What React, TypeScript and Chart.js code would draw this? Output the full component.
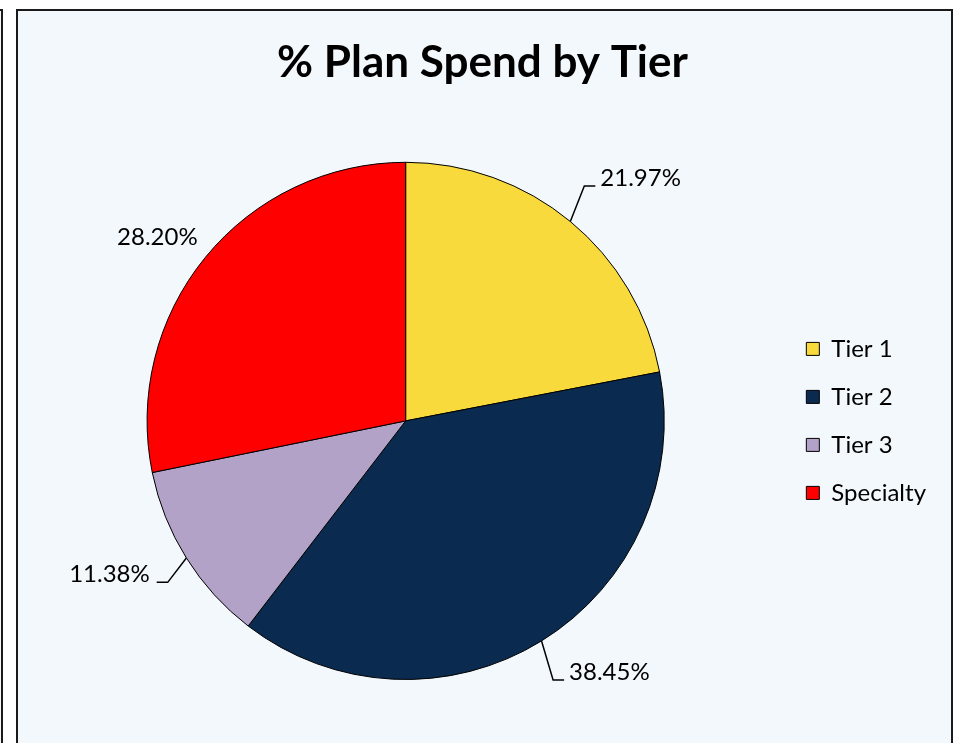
import React, { useEffect, useRef } from "react";
import { Chart, registerables } from "chart.js";

Chart.register(...registerables);

const titleText = "% Plan Spend by Tier";
const categories = ["Tier 1", "Tier 2", "Tier 3", "Specialty"];
const shares = [21.97, 38.45, 11.38, 28.2];
const valueLabels = ["21.97%", "38.45%", "11.38%", "28.20%"];
const sliceColors = ["#F9DA3C", "#0B2A50", "#B3A2C7", "#FF0000"];
const showLeader = [true, true, true, false];

const FONT = "Lato, 'Open Sans', sans-serif";

const labelPlugin = {
  id: "outsideLabels",
  afterDatasetsDraw(chart: any) {
    const ctx = chart.ctx;
    const meta = chart.getDatasetMeta(0);
    meta.data.forEach((arc: any, i: number) => {
      const { x, y, startAngle, endAngle, outerRadius } = arc.getProps(
        ["x", "y", "startAngle", "endAngle", "outerRadius"],
        true
      );
      const mid = (startAngle + endAngle) / 2;
      const cos = Math.cos(mid);
      const sin = Math.sin(mid);
      const right = cos >= 0;
      ctx.save();
      ctx.font = `24px ${FONT}`;
      ctx.fillStyle = "#000";
      if (showLeader[i]) {
        const ex = x + cos * outerRadius;
        const ey = y + sin * outerRadius;
        const bx = ex + cos * 22;
        const by = ey + sin * 46;
        const hx = bx + (right ? 11 : -11);
        ctx.strokeStyle = "#000";
        ctx.lineWidth = 1.5;
        ctx.beginPath();
        ctx.moveTo(ex, ey);
        ctx.lineTo(bx, by);
        ctx.lineTo(hx, by);
        ctx.stroke();
        ctx.textAlign = right ? "left" : "right";
        ctx.textBaseline = "middle";
        ctx.fillText(valueLabels[i], bx + (right ? 16 : -18), by - 8);
      } else {
        const r2 = outerRadius + 10;
        const ax = x + cos * r2;
        const ay = y + sin * r2;
        ctx.textAlign = right ? "left" : "right";
        ctx.textBaseline = "bottom";
        ctx.fillText(valueLabels[i], ax, ay - 2);
      }
      ctx.restore();
    });
  },
};

export default function App() {
  const canvasRef = useRef<HTMLCanvasElement | null>(null);

  useEffect(() => {
    document.body.style.margin = "0";
    const canvas = canvasRef.current;
    if (!canvas) return;
    const chart = new Chart(canvas, {
      type: "pie",
      data: {
        labels: categories,
        datasets: [
          {
            data: shares,
            backgroundColor: sliceColors,
            borderColor: "#000",
            borderWidth: 1,
          },
        ],
      },
      options: {
        animation: false,
        responsive: false,
        maintainAspectRatio: false,
        layout: { padding: { left: 11, right: 15, top: 0, bottom: 63 } },
        plugins: {
          tooltip: { enabled: false },
          title: {
            display: true,
            text: titleText,
            color: "#000",
            fullSize: true,
            font: { family: FONT, size: 44, weight: "bold", lineHeight: 1.2 },
            padding: { top: 25, bottom: 73 },
          },
          legend: {
            display: true,
            position: "right",
            align: "center",
            fullSize: false,
            labels: {
              color: "#000",
              font: { family: FONT, size: 24 },
              boxWidth: 13,
              boxHeight: 13,
              padding: 24,
            },
          },
        },
      },
      plugins: [labelPlugin],
    });
    return () => chart.destroy();
  }, []);

  return (
    <div
      style={{
        position: "fixed",
        left: 0,
        top: 0,
        width: 958,
        height: 743,
        background: "#FFFFFF",
        overflow: "hidden",
      }}
    >
      <div
        style={{
          position: "absolute",
          left: -20,
          top: 9,
          width: 23,
          height: 800,
          boxSizing: "border-box",
          border: "2px solid #1a1a1a",
          background: "#F3F8FC",
        }}
      />
      <div
        style={{
          position: "absolute",
          left: 16,
          top: 9,
          width: 937,
          height: 800,
          boxSizing: "border-box",
          border: "2px solid #1a1a1a",
          background: "#F3F8FC",
        }}
      >
        <canvas
          ref={canvasRef}
          width={933}
          height={732}
          style={{ display: "block", width: 933, height: 732 }}
        />
      </div>
    </div>
  );
}
